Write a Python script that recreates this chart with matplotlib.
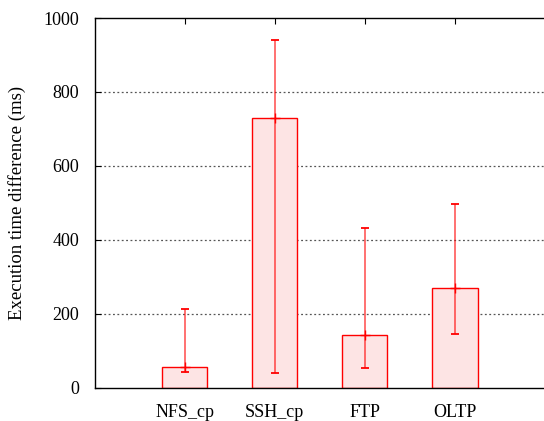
import numpy as np
import matplotlib.pyplot as plt

plt.rcParams['font.family'] = ['Liberation Serif', 'DejaVu Serif']

## data
labels = ['NFS_cp', 'SSH_cp', 'FTP', 'OLTP']
means  = [55, 729, 143, 269]
lows   = [42, 40, 54, 145]
highs  = [213, 940, 431, 496]

x = np.arange(1, len(labels) + 1)
means = np.array(means)
yerr = np.vstack((means - np.array(lows), np.array(highs) - means))

fig = plt.figure(figsize=(5.44, 4.21), dpi=100)
ax = fig.add_axes([0.174, 0.0791, 0.828, 0.878])

ax.bar(x, means, width=0.5, color='#fde4e4', edgecolor='#ff0000', linewidth=1.0, zorder=2)
eb = ax.errorbar(x, means, yerr=yerr, fmt='+', color='#ff0000', ecolor='#ff0000',
                 elinewidth=1.3, capsize=3, capthick=1.3, markersize=7, zorder=3)
# vertical whiskers are drawn lighter than the caps
for lc in eb[2]:
    lc.set_alpha(0.6)

ax.set_xlim(0, 5)
ax.set_ylim(0, 1000)
ax.set_xticks(x)
ax.set_xticklabels(labels)
ax.set_yticks([0, 200, 400, 600, 800, 1000])
ax.set_ylabel('Execution time difference (ms)', fontsize=13.5, labelpad=13)

for yv in [200, 400, 600, 800]:
    ax.axhline(yv, color='#555555', linestyle=(0, (1.5, 2)), linewidth=0.9, zorder=1)

ax.tick_params(axis='both', direction='in', labelsize=13, length=4, width=0.8,
               top=True, right=False)
ax.tick_params(axis='y', pad=11)
ax.tick_params(axis='x', pad=12)
for s in ['left', 'bottom', 'top']:
    ax.spines[s].set_linewidth(1.0)
ax.spines['right'].set_visible(False)

fig.savefig('out.png', dpi=100)
